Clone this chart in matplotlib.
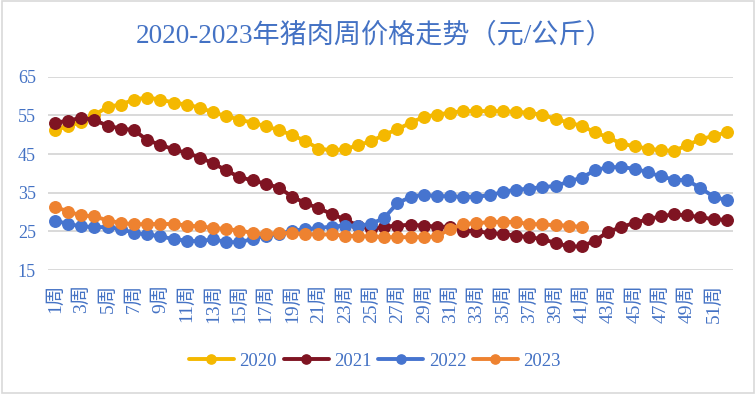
"""2020-2023 weekly pork price trend, redrawn as a line chart."""

import matplotlib

matplotlib.use("Agg")
import matplotlib.pyplot as plt
import numpy as np
from matplotlib.patches import Rectangle

TITLE = "2020-2023年猪肉周价格走势（元/公斤）"
WEEKS = np.arange(1, 53)
WEEK_LABELS = [f"{w}周" for w in WEEKS]

PRICE_2020 = [
    51.2, 52.2, 53.3, 55.1, 57.2, 57.8, 59.1, 59.6, 59.1, 58.3, 57.8, 57.0, 55.8,
    54.8, 53.9, 53.1, 52.2, 51.2, 49.9, 48.4, 46.4, 46.0, 46.2, 47.3, 48.3, 50.0,
    51.4, 53.1, 54.6, 55.2, 55.7, 56.1, 56.1, 56.1, 56.1, 55.9, 55.7, 55.1, 54.1,
    53.1, 52.3, 50.6, 49.3, 47.7, 47.0, 46.4, 46.0, 45.8, 47.3, 48.8, 49.7, 50.6,
]
PRICE_2021 = [
    53.1, 53.6, 54.4, 53.8, 52.3, 51.6, 51.2, 48.6, 47.4, 46.2, 45.3, 44.1, 42.6,
    40.8, 39.0, 38.2, 37.3, 36.3, 34.0, 32.3, 31.0, 29.5, 28.1, 26.5, 25.5, 26.2,
    26.5, 26.7, 26.5, 26.2, 26.2, 25.2, 25.0, 24.6, 24.3, 23.9, 23.5, 23.0, 22.0,
    21.1, 21.1, 22.6, 24.9, 26.1, 27.2, 28.1, 28.9, 29.4, 29.1, 28.7, 28.1, 28.0,
]
PRICE_2022 = [
    27.8, 26.9, 26.3, 26.1, 26.1, 25.6, 24.6, 24.2, 23.7, 23.0, 22.6, 22.4, 23.0,
    22.2, 22.2, 23.0, 23.9, 24.3, 25.2, 25.5, 25.9, 26.2, 26.5, 26.5, 26.9, 28.5,
    32.3, 33.9, 34.5, 34.1, 34.1, 33.9, 34.0, 34.3, 35.2, 35.8, 36.0, 36.5, 36.7,
    37.9, 38.9, 40.8, 41.6, 41.6, 41.2, 40.3, 39.2, 38.4, 38.2, 36.2, 34.0, 33.0,
]
PRICE_2023 = [
    31.4, 30.1, 29.1, 28.9, 27.8, 27.2, 26.8, 26.9, 26.9, 26.9, 26.5, 26.3, 25.9,
    25.6, 25.2, 24.6, 24.3, 24.6, 24.5, 24.3, 24.2, 24.2, 23.9, 23.7, 23.7, 23.5,
    23.5, 23.5, 23.5, 23.7, 25.6, 26.9, 27.1, 27.4, 27.5, 27.4, 26.9, 26.8, 26.6,
    26.5, 26.1,
]
SERIES = [("2020", PRICE_2020), ("2021", PRICE_2021), ("2022", PRICE_2022), ("2023", PRICE_2023)]
Y_TICKS = [15, 25, 35, 45, 55, 65]

COLORS = ["#F4B800", "#7F1422", "#4674CF", "#EE8230"]
TEXT_BLUE = "#4472C4"
FONTS = ["Liberation Serif", "Noto Sans CJK SC", "DejaVu Sans"]


def main() -> None:
    plt.rcParams["font.family"] = FONTS
    fig = plt.figure(figsize=(7.56, 3.94), dpi=100)
    fig.patches.append(Rectangle((0.002, 0.003), 0.995, 0.994, transform=fig.transFigure,
                                 fill=False, edgecolor="#D9D9D9", linewidth=1.2))
    ax = fig.add_axes([0.064, 0.3147, 0.906, 0.4906])

    for (name, values), color in zip(SERIES, COLORS):
        ax.plot(WEEKS[: len(values)], values, color=color, linewidth=2.8,
                marker="o", markersize=8.3, label=name, solid_capstyle="round")

    ax.set_xlim(0.5, 52.5)
    ax.set_ylim(15, 65)
    ax.set_yticks(Y_TICKS)
    ax.set_xticks(WEEKS[::2])
    ax.set_xticklabels(WEEK_LABELS[::2], rotation=90, va="top", fontsize=14)
    ax.tick_params(axis="x", length=0, pad=10, colors=TEXT_BLUE)
    ax.tick_params(axis="y", length=0, pad=9, colors=TEXT_BLUE, labelsize=13)
    ax.grid(axis="y", color="#D9D9D9", linewidth=1.4)
    ax.set_axisbelow(True)
    for spine in ax.spines.values():
        spine.set_visible(False)

    fig.text(0.496, 0.909, TITLE, ha="center", va="center", fontsize=19.5, color=TEXT_BLUE)
    legend = fig.legend(loc="center", bbox_to_anchor=(0.496, 0.083), ncol=4, frameon=False,
                        fontsize=13.5, handlelength=2.4, handletextpad=0.3, columnspacing=0.35,
                        markerscale=0.8)
    for text in legend.get_texts():
        text.set_color(TEXT_BLUE)

    fig.savefig("out.png", dpi=100)
    plt.close(fig)


if __name__ == "__main__":
    main()
